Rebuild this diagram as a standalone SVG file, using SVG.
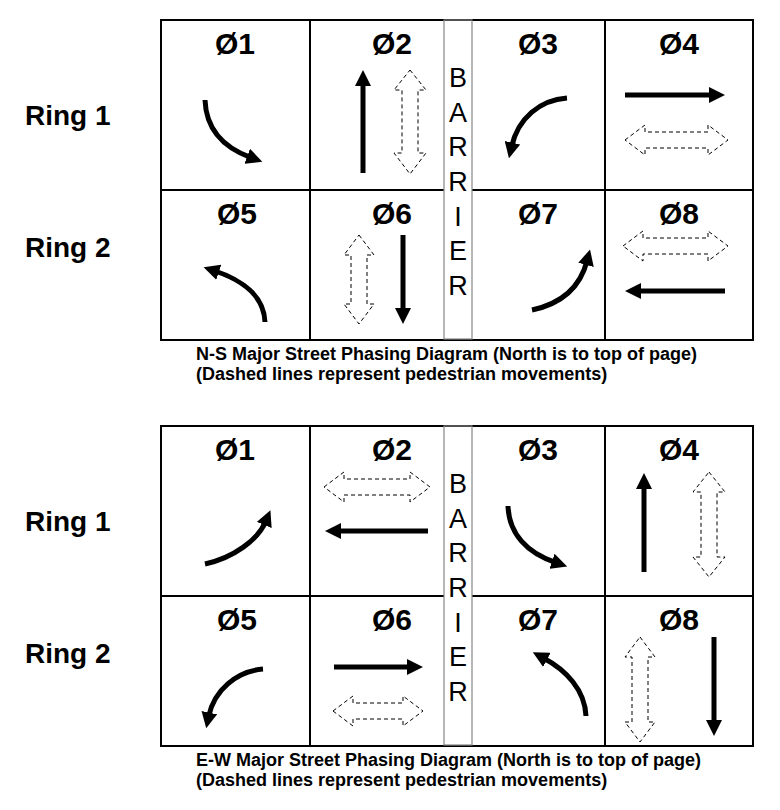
<svg xmlns="http://www.w3.org/2000/svg" width="780" height="810" viewBox="0 0 780 810">
<style>
.grid{fill:none;stroke:#000;stroke-width:2}
.bar{fill:none;stroke:#888;stroke-width:1.2}
.ph{font-family:"Liberation Sans",Arial,sans-serif;font-weight:bold;font-size:30px;text-anchor:middle;fill:#000}
.ring{font-family:"Liberation Sans",Arial,sans-serif;font-weight:bold;font-size:28px;fill:#000}
.bt{font-family:"Liberation Sans",Arial,sans-serif;font-size:27px;text-anchor:middle;fill:#000}
.cap{font-family:"Liberation Sans",Arial,sans-serif;font-weight:bold;font-size:18px;fill:#000}
.veh{fill:none;stroke:#000;stroke-width:5;marker-end:url(#ah)}
.ped{fill:#fff;stroke:#000;stroke-width:1;stroke-dasharray:4 3}
</style>
<defs>
<marker id="ah" markerUnits="userSpaceOnUse" markerWidth="16" markerHeight="16" viewBox="0 0 16 16" refX="4" refY="8" orient="auto">
<path d="M0,0 L16,8 L0,16 z" fill="#000"/>
</marker>
</defs>

<g id="ns-diagram">
<g id="ns-grid">
<rect class="grid" x="161" y="20" width="592" height="320"/>
<line class="grid" x1="310" y1="20" x2="310" y2="340"/>
<line class="grid" x1="605" y1="20" x2="605" y2="340"/>
<line class="grid" x1="161" y1="190" x2="444" y2="190"/>
<line class="grid" x1="472" y1="190" x2="753" y2="190"/>
</g>
<g id="ns-barrier">
<rect x="444" y="21" width="28" height="318" fill="#fff"/>
<rect class="bar" x="444" y="20" width="28" height="319"/>
<text class="bt" x="458" y="87">B</text>
<text class="bt" x="458" y="122">A</text>
<text class="bt" x="458" y="156">R</text>
<text class="bt" x="458" y="191">R</text>
<text class="bt" x="458" y="226">I</text>
<text class="bt" x="458" y="260">E</text>
<text class="bt" x="458" y="295">R</text>
</g>
<g id="ns-rings">
<text class="ring" x="25" y="125">Ring 1</text>
<text class="ring" x="25" y="257">Ring 2</text>
</g>
<g id="ns-p1"><text class="ph" x="235" y="54">Ø1</text>
<path class="veh" d="M205,100 C206,128 222,147 251,157.6"/></g>
<g id="ns-p2"><text class="ph" x="392" y="54">Ø2</text>
<line class="veh" x1="363" y1="173" x2="363" y2="82"/>
<polygon class="ped" points="410,70 426,90 418,90 418,153 426,153 410,174 394,153 402,153 402,90 394,90"/></g>
<g id="ns-p3"><text class="ph" x="538" y="54">Ø3</text>
<path class="veh" d="M567,98 C540,100 518,118 511.6,146.6"/></g>
<g id="ns-p4"><text class="ph" x="679" y="54">Ø4</text>
<line class="veh" x1="625" y1="95" x2="713" y2="95"/>
<polygon class="ped" points="625,140 645,125 645,132 708,132 708,125 728,140 708,155 708,148 645,148 645,155"/></g>
<g id="ns-p5"><text class="ph" x="237" y="224">Ø5</text>
<path class="veh" d="M265,322 C264,296 242,280 215,271"/></g>
<g id="ns-p6"><text class="ph" x="392" y="224">Ø6</text>
<polygon class="ped" points="359,235 374,255 367,255 367,304 374,304 359,324 344,304 351,304 351,255 344,255"/>
<line class="veh" x1="403" y1="235" x2="403" y2="312"/></g>
<g id="ns-p7"><text class="ph" x="538" y="224">Ø7</text>
<path class="veh" d="M532,310 C560,304 580,288 587,261"/></g>
<g id="ns-p8"><text class="ph" x="679" y="224">Ø8</text>
<polygon class="ped" points="623,246 643,231 643,238 708,238 708,231 728,246 708,261 708,254 643,254 643,261"/>
<line class="veh" x1="725" y1="291" x2="637" y2="291"/></g>
<g id="ns-caption">
<text class="cap" x="196" y="360">N-S Major Street Phasing Diagram (North is to top of page)</text>
<text class="cap" x="196" y="380">(Dashed lines represent pedestrian movements)</text>
</g>
</g>

<g id="ew-diagram">
<g id="ew-grid">
<rect class="grid" x="161" y="426" width="592" height="320"/>
<line class="grid" x1="310" y1="426" x2="310" y2="746"/>
<line class="grid" x1="605" y1="426" x2="605" y2="746"/>
<line class="grid" x1="161" y1="596" x2="444" y2="596"/>
<line class="grid" x1="472" y1="596" x2="753" y2="596"/>
</g>
<g id="ew-barrier">
<rect x="444" y="427" width="28" height="318" fill="#fff"/>
<rect class="bar" x="444" y="426" width="28" height="319"/>
<text class="bt" x="458" y="493">B</text>
<text class="bt" x="458" y="528">A</text>
<text class="bt" x="458" y="562">R</text>
<text class="bt" x="458" y="597">R</text>
<text class="bt" x="458" y="632">I</text>
<text class="bt" x="458" y="666">E</text>
<text class="bt" x="458" y="701">R</text>
</g>
<g id="ew-rings">
<text class="ring" x="25" y="531">Ring 1</text>
<text class="ring" x="25" y="663">Ring 2</text>
</g>
<g id="ew-p1"><text class="ph" x="235" y="460">Ø1</text>
<path class="veh" d="M205,564 C233,558 258,540 265.8,521.3"/></g>
<g id="ew-p2"><text class="ph" x="392" y="460">Ø2</text>
<polygon class="ped" points="324,487 344,472 344,479 410,479 410,472 430,487 410,502 410,495 344,495 344,502"/>
<line class="veh" x1="428" y1="531" x2="337" y2="531"/></g>
<g id="ew-p3"><text class="ph" x="538" y="460">Ø3</text>
<path class="veh" d="M508,506 C509,534 527,553 555.8,562.6"/></g>
<g id="ew-p4"><text class="ph" x="679" y="460">Ø4</text>
<line class="veh" x1="644" y1="572" x2="644" y2="485"/>
<polygon class="ped" points="709,472 725,492 717,492 717,557 725,557 709,577 693,557 701,557 701,492 693,492"/></g>
<g id="ew-p5"><text class="ph" x="237" y="630">Ø5</text>
<path class="veh" d="M263,669 C237,671 214,690 208.6,716.6"/></g>
<g id="ew-p6"><text class="ph" x="392" y="630">Ø6</text>
<line class="veh" x1="334" y1="667" x2="411" y2="667"/>
<polygon class="ped" points="333,711 353,696 353,703 403,703 403,696 423,711 403,726 403,719 353,719 353,726"/></g>
<g id="ew-p7"><text class="ph" x="538" y="630">Ø7</text>
<path class="veh" d="M586,716 C585,690 566,670 543.4,658"/></g>
<g id="ew-p8"><text class="ph" x="679" y="630">Ø8</text>
<polygon class="ped" points="640,637 655,657 648,657 648,722 655,722 640,742 625,722 632,722 632,657 625,657"/>
<line class="veh" x1="714" y1="637" x2="714" y2="724"/></g>
<g id="ew-caption">
<text class="cap" x="196" y="766">E-W Major Street Phasing Diagram (North is to top of page)</text>
<text class="cap" x="196" y="786">(Dashed lines represent pedestrian movements)</text>
</g>
</g>
</svg>
